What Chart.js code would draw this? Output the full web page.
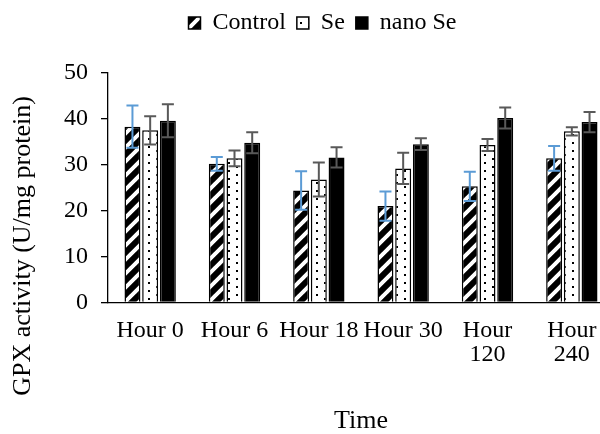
<!DOCTYPE html>
<html>
<head>
<meta charset="utf-8">
<script src="https://cdn.jsdelivr.net/npm/chart.js@4.4.1/dist/chart.umd.min.js"></script>
<style>
  html, body { margin: 0; padding: 0; background: #fff; overflow: hidden; }
  #wrap { width: 614px; height: 434px; }
</style>
</head>
<body>
<div id="wrap"><canvas id="chartGpx" width="614" height="434"></canvas></div>
<script>
// ── GPX activity by time point ──

const horas = ['Hour 0', 'Hour 6', 'Hour 18', 'Hour 30', ['Hour', '120'], ['Hour', '240']];

const controlVals = [38.3, 30.2, 24.4, 21.0, 25.3, 31.4];
const controlErr  = [4.6, 1.5, 4.2, 3.2, 3.2, 2.7];
const seVals      = [37.5, 31.4, 26.8, 29.2, 34.3, 37.3];
const seErr       = [3.1, 1.7, 3.7, 3.4, 1.3, 0.9];
const nanoVals    = [39.6, 34.8, 31.6, 34.5, 40.2, 39.3];
const nanoErr     = [3.6, 2.3, 2.2, 1.3, 2.3, 2.2];

const yTicks = [0, 10, 20, 30, 40, 50];
const Y_TITLE = 'GPX activity (U/mg protein)';

const FONT = 'Liberation Serif, "Times New Roman", serif';
const canvas = document.getElementById('chartGpx');
const ctx = canvas.getContext('2d');

// padrões de preenchimento (diagonal larga e pontilhado)
function hatchPattern() {
  const t = document.createElement('canvas');
  t.width = 14; t.height = 14;
  const g = t.getContext('2d');
  g.fillStyle = '#fff'; g.fillRect(0, 0, 14, 14);
  g.strokeStyle = '#000'; g.lineWidth = 6;
  g.beginPath();
  [-14, 0, 14].forEach(k => { g.moveTo(k - 2, 16); g.lineTo(k + 16, -2); });
  g.stroke();
  return ctx.createPattern(t, 'repeat');
}
function dotPattern() {
  const t = document.createElement('canvas');
  t.width = 16; t.height = 8;
  const g = t.getContext('2d');
  g.fillStyle = '#fff'; g.fillRect(0, 0, 16, 8);
  g.fillStyle = '#000';
  g.fillRect(4, 2, 2, 2);
  g.fillRect(12, 6, 2, 2);
  return ctx.createPattern(t, 'repeat');
}

// barras de erro desenhadas com a escala y do próprio gráfico
const errorBars = {
  id: 'errorBars',
  afterDatasetsDraw(chart) {
    const c = chart.ctx, y = chart.scales.y;
    chart.data.datasets.forEach((ds, i) => {
      const meta = chart.getDatasetMeta(i);
      c.save();
      c.strokeStyle = ds.errColor;
      c.lineWidth = 2;
      meta.data.forEach((bar, j) => {
        const top = y.getPixelForValue(ds.data[j] + ds.errors[j]);
        const bot = y.getPixelForValue(ds.data[j] - ds.errors[j]);
        c.beginPath();
        c.moveTo(bar.x, top); c.lineTo(bar.x, bot);
        c.moveTo(bar.x - 6, top); c.lineTo(bar.x + 6, top);
        c.moveTo(bar.x - 6, bot); c.lineTo(bar.x + 6, bot);
        c.stroke();
      });
      c.restore();
    });
  }
};

// legenda: subir para o topo e centrar como no original
const legendNudge = {
  id: 'legendNudge',
  afterLayout(chart) {
    const lg = chart.legend;
    lg.left -= 10; lg.right -= 10;
    lg.top -= 28; lg.bottom -= 28;
  }
};

// título do eixo y (no original fica mais abaixo do que o centro do eixo)
const yTitle = {
  id: 'yTitle',
  afterDraw(chart) {
    const c = chart.ctx;
    c.save();
    c.translate(23, 246);
    c.rotate(-Math.PI / 2);
    c.font = '26px ' + FONT;
    c.fillStyle = '#000';
    c.textAlign = 'center';
    c.textBaseline = 'middle';
    c.fillText(Y_TITLE, 0, 0);
    c.restore();
  }
};

new Chart(canvas, {
  type: 'bar',
  data: {
    labels: horas,
    datasets: [
      { label: 'Control', data: controlVals, errors: controlErr, errColor: '#5B9BD5',
        backgroundColor: hatchPattern(), borderColor: '#000', borderWidth: 1.5 },
      { label: 'Se', data: seVals, errors: seErr, errColor: '#595959',
        backgroundColor: dotPattern(), borderColor: '#000', borderWidth: 1.5 },
      { label: 'nano Se', data: nanoVals, errors: nanoErr, errColor: '#595959',
        backgroundColor: '#000', borderColor: '#000', borderWidth: 1.5 }
    ]
  },
  options: {
    responsive: false,
    animation: false,
    barPercentage: 0.9,
    categoryPercentage: 0.63,
    layout: { padding: { top: 28, left: 51, right: 0, bottom: 0 } },
    plugins: {
      legend: {
        position: 'top',
        labels: { color: '#000', font: { family: FONT, size: 24 }, boxWidth: 12, boxHeight: 12, padding: 11 }
      },
      tooltip: { enabled: false }
    },
    scales: {
      x: {
        ticks: { color: '#000', font: { family: FONT, size: 24, lineHeight: 0.97 }, padding: 17, maxRotation: 0, autoSkip: false },
        grid: { display: false, drawTicks: false },
        border: { color: '#000', width: 1.3 },
        title: { display: true, text: 'Time', color: '#000', font: { family: FONT, size: 26, lineHeight: 1 }, padding: { top: 25, bottom: 0 } }
      },
      y: {
        min: yTicks[0], max: yTicks[yTicks.length - 1],
        afterBuildTicks: s => { s.ticks = yTicks.map(v => ({ value: v })); },
        ticks: { color: '#000', font: { family: FONT, size: 24 }, padding: 13 },
        grid: { drawOnChartArea: false, tickLength: 7, color: '#000', lineWidth: 1.3 },
        border: { color: '#000', width: 1.3 }
      }
    }
  },
  plugins: [errorBars, legendNudge, yTitle]
});
</script>
</body>
</html>
